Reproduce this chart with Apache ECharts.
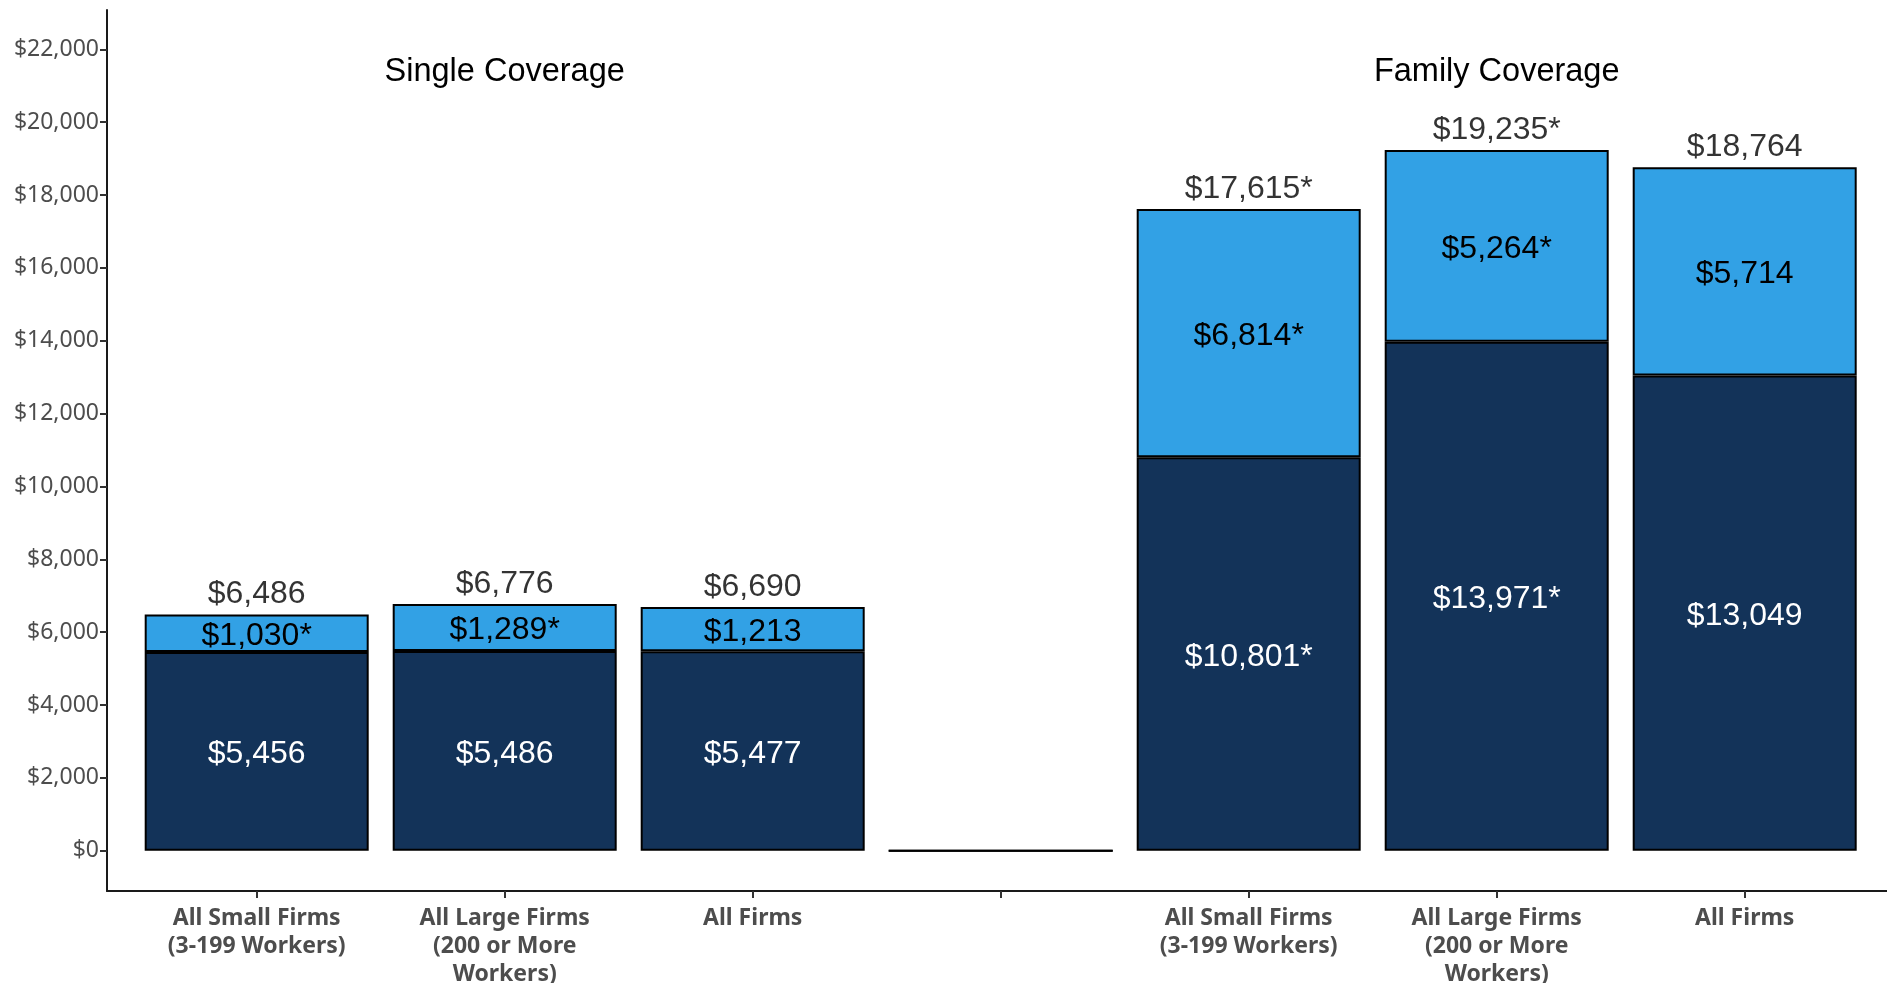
<!DOCTYPE html>
<html>
<head>
<meta charset="utf-8">
<title>Average Annual Premiums</title>
<script src="https://cdn.jsdelivr.net/npm/echarts@6/dist/echarts.min.js"></script>
<style>
  html, body { margin: 0; padding: 0; background: #ffffff; }
  #chart { width: 1887px; height: 983px; }
</style>
</head>
<body>
<div id="chart"></div>
<script>
// Firm groups along the x axis; the empty slot separates single from family coverage
const categories = [
  'All Small Firms\n(3-199 Workers)',
  'All Large Firms\n(200 or More\nWorkers)',
  'All Firms',
  '',
  'All Small Firms\n(3-199 Workers)',
  'All Large Firms\n(200 or More\nWorkers)',
  'All Firms'
];

// Employer contribution (lower, dark segment)
const employerShare = [5456, 5486, 5477, 0, 10801, 13971, 13049];
// Worker contribution (upper, light segment)
const workerShare = [1030, 1289, 1213, 0, 6814, 5264, 5714];
// Total premium shown above each bar
const totalPremium = [6486, 6776, 6690, null, 17615, 19235, 18764];

// Asterisk marks on values
const employerStar = [false, false, false, false, true, true, false];
const workerStar = [true, true, false, false, true, true, false];
const totalStar = [false, false, false, false, true, true, false];

// Panel headings and the slot each one is centred over
const panelTitles = ['Single Coverage', 'Family Coverage'];
const panelSlots = [1, 5];

// Y axis tick values
const yTicks = [0, 2000, 4000, 6000, 8000, 10000, 12000, 14000, 16000, 18000, 20000, 22000];
const Y_MIN = -1106, Y_MAX = 23080;

const money = v => '$' + Math.round(v).toLocaleString('en-US');
const starred = (v, s) => money(v) + (s ? '*' : '');

const chart = echarts.init(document.getElementById('chart'), null, { renderer: 'canvas' });

const barLabelFont = { fontFamily: 'Liberation Sans, Arial, sans-serif', fontSize: 32 };

// Layout: bars sit in 248px bands; the frame axes start a little further left
const W = 1887;
const PLOT_TOP = 10, PLOT_BOTTOM = 92;
const BAND = 248;
const BAR_LEFT = 132.7;
const BAR_RIGHT = W - BAR_LEFT - BAND * categories.length;
const FRAME_LEFT = 107;
// frame x axis measured in slot units so its ticks land on band centres
const FRAME_MIN = -0.5 - (BAR_LEFT - FRAME_LEFT) / BAND;
const FRAME_MAX = FRAME_MIN + (W - FRAME_LEFT) / BAND;
const slotTicks = categories.map((_, i) => i);

const option = {
  animation: false,
  backgroundColor: '#ffffff',
  grid: [
    { left: BAR_LEFT, right: BAR_RIGHT, top: PLOT_TOP, bottom: PLOT_BOTTOM, containLabel: false, outerBoundsMode: 'none' },
    { left: FRAME_LEFT, right: 0, top: PLOT_TOP, bottom: PLOT_BOTTOM, containLabel: false, outerBoundsMode: 'none' }
  ],
  xAxis: [
    {
      type: 'category',
      gridIndex: 0,
      data: categories,
      boundaryGap: true,
      axisLine: { show: false, onZero: false },
      axisTick: { show: false },
      axisLabel: {
        interval: 0,
        color: '#4d4d4d',
        fontFamily: 'Noto Sans, sans-serif',
        fontWeight: 'bold',
        fontSize: 23,
        lineHeight: 28,
        margin: 13,
        align: 'center'
      },
      splitLine: { show: false }
    },
    {
      type: 'value',
      gridIndex: 1,
      min: FRAME_MIN,
      max: FRAME_MAX,
      axisLine: { show: true, onZero: false, lineStyle: { color: '#1a1a1a', width: 2 } },
      axisTick: { show: true, length: 7, customValues: slotTicks, lineStyle: { color: '#333', width: 2 } },
      axisLabel: { show: false },
      splitLine: { show: false }
    }
  ],
  yAxis: [
    {
      type: 'value',
      gridIndex: 0,
      min: Y_MIN,
      max: Y_MAX,
      show: false,
      splitLine: { show: false }
    },
    {
      type: 'value',
      gridIndex: 1,
      min: Y_MIN,
      max: Y_MAX,
      splitLine: { show: false },
      axisLine: { show: true, onZero: false, lineStyle: { color: '#1a1a1a', width: 2 } },
      axisTick: { show: true, length: 7, customValues: yTicks, lineStyle: { color: '#333', width: 2 } },
      axisLabel: {
        customValues: yTicks,
        formatter: v => money(v),
        color: '#4d4d4d',
        fontFamily: 'Noto Sans, sans-serif',
        fontSize: 23,
        margin: 8
      }
    }
  ],
  series: [
    {
      name: 'Employer',
      type: 'bar',
      xAxisIndex: 0,
      yAxisIndex: 0,
      stack: 'premium',
      barWidth: 224,
      data: employerShare,
      itemStyle: { color: '#133359', borderColor: '#000000', borderWidth: 2 },
      label: {
        show: true,
        position: 'inside',
        offset: [0, 3],
        color: '#ffffff',
        ...barLabelFont,
        formatter: p => categories[p.dataIndex] ? starred(p.value, employerStar[p.dataIndex]) : ''
      }
    },
    {
      name: 'Worker',
      type: 'bar',
      xAxisIndex: 0,
      yAxisIndex: 0,
      stack: 'premium',
      barWidth: 224,
      data: workerShare,
      itemStyle: { color: '#32a1e5', borderColor: '#000000', borderWidth: 2 },
      label: {
        show: true,
        position: 'inside',
        offset: [0, 3],
        color: '#000000',
        ...barLabelFont,
        formatter: p => categories[p.dataIndex] ? starred(p.value, workerStar[p.dataIndex]) : ''
      }
    },
    {
      name: 'Total',
      type: 'scatter',
      xAxisIndex: 0,
      yAxisIndex: 0,
      symbolSize: 0,
      silent: true,
      data: totalPremium,
      label: {
        show: true,
        position: 'top',
        distance: 4,
        color: '#000000',
        ...barLabelFont,
        formatter: p => starred(p.value, totalStar[p.dataIndex])
      }
    }
  ]
};

chart.setOption(option);

// Panel headings centred over their middle slot (slot index on the category axis)
chart.setOption({
  graphic: panelTitles.map((t, k) => ({
    type: 'text',
    x: chart.convertToPixel({ xAxisIndex: 0 }, panelSlots[k]),
    y: 72,
    style: {
      text: t,
      fill: '#000000',
      fontFamily: 'Liberation Sans, Arial, sans-serif',
      fontSize: 32.5,
      textAlign: 'center',
      textVerticalAlign: 'middle'
    }
  }))
});
</script>
</body>
</html>
